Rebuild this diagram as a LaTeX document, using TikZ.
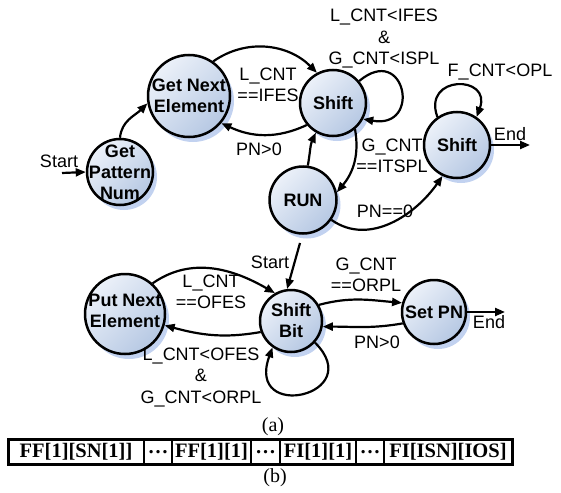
\documentclass[tikz,border=0pt]{standalone}
\usepackage{fontspec}
\setmainfont{Liberation Sans}
\newfontfamily\capfont{Liberation Serif}
\usetikzlibrary{arrows.meta,shadows,positioning}
\definecolor{statelight}{HTML}{ECF1F9}
\definecolor{statedark}{HTML}{B6C8E3}
\definecolor{shadowblue}{HTML}{B3C7EC}
\begin{document}
\begin{tikzpicture}[x=1pt,y=1pt,
  state/.style={circle,draw,line width=2.5pt,inner sep=0pt,top color=statelight,bottom color=statedark,shading angle=45,
    drop shadow={shadow xshift=4pt,shadow yshift=-5pt,fill=shadowblue,opacity=0.8}},
  statetext/.style={font=\fontsize{18}{21}\selectfont\bfseries,align=center,inner sep=0pt},
  cond/.style={font=\fontsize{18}{21.5}\selectfont,align=center,inner sep=0pt},
  arr/.style={line width=2.2pt,-{Triangle[length=10pt,width=8pt]}},
  cell/.style={draw,line width=2pt,outer sep=0pt,minimum height=25pt,inner sep=0pt,font=\fontsize{20.5}{22}\capfont\bfseries},
  captext/.style={font=\fontsize{20}{22}\capfont,inner sep=0pt}]
\useasboundingbox (0,0) rectangle (561,-492);
\node[state,minimum size=66pt,label={[statetext]center:Get\\Pattern\\Num}] (gpn) at (120,-172) {};
\node[state,minimum size=82pt,label={[statetext]center:Get Next\\Element}] (gne) at (189,-96) {};
\node[state,minimum size=66pt,label={[statetext]center:Shift}] (sh1) at (333,-103) {};
\node[state,minimum size=67pt,label={[statetext]center:RUN}] (run) at (303,-200) {};
\node[state,minimum size=66pt,label={[statetext]center:Shift}] (sh2) at (457,-145) {};
\node[state,minimum size=62pt,label={[statetext]center:Shift\\Bit}] (sb) at (291,-321) {};
\node[state,minimum size=80pt,label={[statetext,yshift=3pt]center:Put Next\\Element}] (pne) at (125,-314) {};
\node[state,minimum size=64pt,label={[statetext]center:Set PN}] (spn) at (434,-312) {};
\coordinate (gs) at (62,-173);
\draw[arr] (gs) -- (gpn.180);
\node[cond] (tstart) at (59,-161) {Start};
\draw[arr] (gpn.90) to[out=85,in=225] (gne.190);
\draw[arr] (gne.55) to[out=35,in=135] (sh1.118);
\node[cond] (c1) at (268,-85) {L\_CNT\\==IFES};
\draw[arr] (sh1.220) to[out=205,in=-25] (gne.320);
\node[cond] (c2) at (259,-149) {PN>0};
\draw[arr] (sh1.40) .. controls +(40:60) and +(-10:60) .. (sh1.-28);
\node[cond] (c3) at (384,-39) {L\_CNT<IFES\\\&\\G\_CNT<ISPL};
\draw[arr] (sh1.310) to[out=-80,in=50] (run.13);
\node[cond] (c4) at (392,-156) {G\_CNT\\==ITSPL};
\draw[arr] (run.82) to[out=80,in=245] (sh1.240);
\draw[arr] (run.-35) to[out=-35,in=235] (sh2.245);
\node[cond] (c5) at (385,-211) {PN==0};
\draw[arr] (sh2.125) .. controls +(110:45) and +(70:45) .. (sh2.55);
\node[cond] (c6) at (500,-72) {F\_CNT<OPL};
\coordinate (e1) at (530,-145);
\draw[arr] (sh2.0) -- (e1);
\node[cond] (tend1) at (510,-134) {End};
\coordinate (gs2) at (300,-243);
\draw[arr] (gs2) -- (sb.97);
\node[cond] (tstart2) at (270,-262) {Start};
\draw[arr] (pne.48) to[out=35,in=150] (sb.120);
\node[cond] (c7) at (211,-292) {L\_CNT\\==OFES};
\draw[arr] (sb.200) to[out=190,in=-15] (pne.-16);
\draw[arr] (sb.-42) .. controls +(-45:75) and +(-110:80) .. (sb.235);
\node[cond] (c8) at (201,-377) {L\_CNT<OFES\\\&\\G\_CNT<ORPL};
\draw[arr] (sb.30) to[out=15,in=175] (spn.164);
\node[cond] (c9) at (366,-275) {G\_CNT\\==ORPL};
\draw[arr] (spn.200) to[out=190,in=0] (sb.-10);
\node[cond] (c10) at (377,-342) {PN>0};
\coordinate (e2) at (505,-312);
\draw[arr] (spn.0) -- (e2);
\node[cond] (tend2) at (489,-322) {End};
\node[captext] (capa) at (273,-427) {(a)};
\node[cell,minimum width=136pt,anchor=west] (f1) at (8,-452) {FF[1][SN[1]]};
\node[cell,minimum width=28pt,right=0pt of f1] (f2) {…};
\node[cell,minimum width=79pt,right=0pt of f2] (f3) {FF[1][1]};
\node[cell,minimum width=29pt,right=0pt of f3] (f4) {…};
\node[cell,minimum width=76pt,right=0pt of f4] (f5) {FI[1][1]};
\node[cell,minimum width=28pt,right=0pt of f5] (f6) {…};
\node[cell,minimum width=128pt,right=0pt of f6] (f7) {FI[ISN][IOS]};
\draw[line width=3pt] (f1.north west) rectangle (f7.south east);
\node[captext] (capb) at (275,-478) {(b)};
\end{tikzpicture}
\end{document}
